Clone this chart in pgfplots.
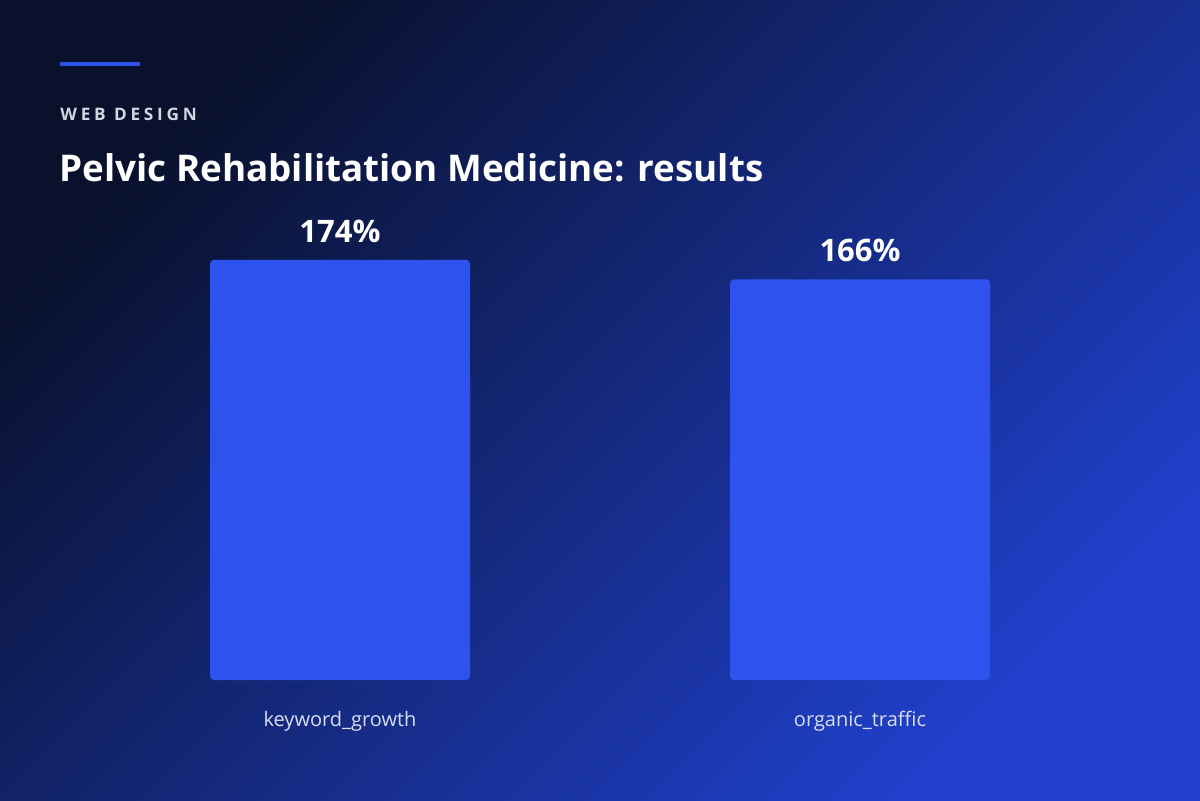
\documentclass[border=0pt]{standalone}
\usepackage{pgfplots}
\pgfplotsset{compat=1.18}
\usepackage{fontspec}
\setmainfont{Open Sans}
\definecolor{bgA}{HTML}{09112C}
\definecolor{bgM}{HTML}{16287E}
\definecolor{bgB}{HTML}{2040CC}
\definecolor{barblue}{HTML}{2D52ED}
\definecolor{subtxt}{HTML}{D2D6E2}
\definecolor{cattxt}{HTML}{D8DEF4}
\begin{document}
\begin{tikzpicture}
\useasboundingbox (0pt,0pt) rectangle (600pt,400pt);
\shade[top color=bgA, middle color=bgM, bottom color=bgB, shading angle=45] (0pt,0pt) rectangle (600pt,400pt);
\fill[barblue] (30pt,367pt) rectangle (70pt,369pt);
\node[anchor=base west, inner sep=0, text=subtxt, font=\fontsize{8.6}{10}\selectfont\bfseries\addfontfeatures{LetterSpace=22}] at (30pt,339.5pt) {WEB DESIGN};
\node[anchor=base west, inner sep=0, text=white, font=\fontsize{18.4}{22}\selectfont\bfseries] at (29.5pt,309pt) {Pelvic Rehabilitation Medicine: results};
\begin{axis}[
  at={(40pt,60pt)}, anchor=south west,
  scale only axis, width=520pt, height=241.4pt,
  xmin=-0.5, xmax=1.5, ymin=0, ymax=200,
  axis lines=none,
  ybar, bar width=130pt, bar shift=0pt,
  xtick=data, xticklabels={keyword\_growth, organic\_traffic},
  ytick=\empty,
  clip=false,
  /pgf/number format/assume math mode=true,
  nodes near coords={\pgfmathprintnumber{\pgfplotspointmeta}\%},
  every node near coord/.append style={text=white, font=\fontsize{15.5}{18}\selectfont\bfseries, yshift=5pt},
]
\addplot[fill=barblue, draw=none, rounded corners=2pt] coordinates {(0,174) (1,166)};
\end{axis}
\node[text=cattxt, font=\fontsize{10}{12}\selectfont] at (170pt,39.5pt) {keyword\_growth};
\node[text=cattxt, font=\fontsize{10}{12}\selectfont] at (430pt,39.5pt) {organic\_traffic};
\end{tikzpicture}
\end{document}
